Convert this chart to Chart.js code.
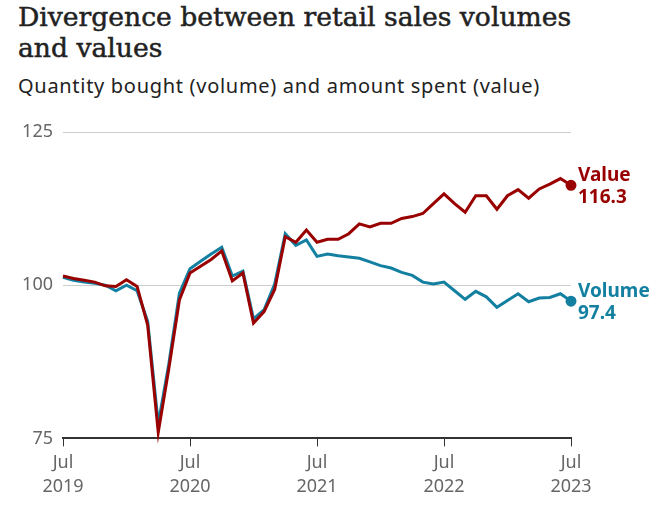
<!DOCTYPE html>
<html>
<head>
<meta charset="utf-8">
<script src="https://cdn.jsdelivr.net/npm/chart.js@4"></script>
<style>
  html, body { margin: 0; padding: 0; background: #fff; }
  body { width: 669px; height: 509px; position: relative; overflow: hidden; }
  #title {
    position: absolute; left: 18px; top: 1px; width: 650px;
    font-family: "DejaVu Serif", serif; font-size: 26.6px; line-height: 31px;
    color: #222; margin: 0; font-weight: normal;
    -webkit-text-stroke: 0.5px #222;
  }
  #subtitle {
    position: absolute; left: 18px; top: 72px;
    font-family: "Noto Sans", sans-serif; font-size: 20px; letter-spacing: 0.7px; color: #222;
  }
  #wrap { position: absolute; left: 0; top: 110px; width: 669px; height: 399px; }
</style>
</head>
<body>
<h1 id="title">Divergence between retail sales volumes<br>and values</h1>
<div id="subtitle">Quantity bought (volume) and amount spent (value)</div>
<div id="wrap"><canvas id="chart"></canvas></div>
<script>
// monthly index, Jul 2019 .. Jul 2023
const months = [];
const monthNames = ['Jul','Aug','Sep','Oct','Nov','Dec','Jan','Feb','Mar','Apr','May','Jun'];
for (let i = 0; i < 49; i++) {
  months.push(monthNames[i % 12] + ' ' + (2019 + Math.floor((i + 6) / 12)));
}

const valueSeries = [101.5, 101.1, 100.8, 100.5, 99.9, 99.8, 100.9, 99.8, 93.5, 76.0,
  86.4, 97.6, 102.0, 103.1, 104.2, 105.6, 100.7, 102.0, 93.8, 95.7,
  99.3, 107.9, 107.0, 109.0, 107.0, 107.5, 107.5, 108.4, 110.0, 109.5,
  110.1, 110.1, 110.9, 111.2, 111.7, 113.3, 114.9, 113.3, 111.9, 114.6,
  114.6, 112.4, 114.6, 115.6, 114.2, 115.7, 116.5, 117.4, 116.3];

const volumeSeries = [101.3, 100.8, 100.5, 100.3, 100.0, 99.1, 100.0, 99.1, 94.1, 77.4,
  87.2, 98.7, 102.7, 103.9, 105.1, 106.2, 101.5, 102.3, 94.5, 96.0,
  100.2, 108.4, 106.5, 107.4, 104.7, 105.1, 104.8, 104.6, 104.4, 103.8,
  103.2, 102.8, 102.1, 101.6, 100.5, 100.2, 100.5, 99.1, 97.7, 99.0,
  98.1, 96.4, 97.5, 98.6, 97.3, 97.9, 98.0, 98.6, 97.4];

const yTicks = [75, 100, 125];
const seriesNames = ['Value', 'Volume'];
const seriesColors = ['#990000', '#1380a1'];

const isJuly = (i) => i % 12 === 0;
const lastIdx = months.length - 1;

// label at the end of each line
const endLabels = {
  id: 'endLabels',
  afterDatasetsDraw(chart) {
    const ctx = chart.ctx;
    ctx.save();
    ctx.font = 'bold 19px "Noto Sans", sans-serif';
    ctx.textBaseline = 'middle';
    chart.data.datasets.forEach((ds, i) => {
      const pt = chart.getDatasetMeta(i).data[lastIdx];
      ctx.fillStyle = ds.borderColor;
      ctx.fillText(ds.label, pt.x + 7, pt.y - 10);
      ctx.fillText(ds.data[lastIdx].toFixed(1), pt.x + 7, pt.y + 12);
    });
    ctx.restore();
  }
};

const makeSet = (label, data, color) => ({
  label: label,
  data: data,
  borderColor: color,
  backgroundColor: color,
  borderWidth: 3,
  tension: 0,
  clip: false,
  pointRadius: (c) => c.dataIndex === lastIdx ? 4 : 0,
  pointHoverRadius: 0
});

new Chart(document.getElementById('chart'), {
  type: 'line',
  data: {
    labels: months,
    datasets: [
      makeSet(seriesNames[0], valueSeries, seriesColors[0]),
      makeSet(seriesNames[1], volumeSeries, seriesColors[1])
    ]
  },
  options: {
    responsive: true,
    maintainAspectRatio: false,
    animation: false,
    layout: { padding: { top: 22, right: 98, bottom: 6, left: 0 } },
    plugins: { legend: { display: false }, tooltip: { enabled: false } },
    scales: {
      x: {
        grid: {
          drawOnChartArea: false,
          tickLength: 8,
          tickColor: (c) => isJuly(c.index) ? '#333' : 'rgba(0,0,0,0)'
        },
        border: { color: '#333', width: 2 },
        ticks: {
          autoSkip: false,
          maxRotation: 0,
          padding: 4,
          color: '#666',
          font: { family: '"Noto Sans", sans-serif', size: 18, lineHeight: 1.35 },
          callback: (v, i) => isJuly(i) ? ['Jul', String(2019 + i / 12)] : ''
        }
      },
      y: {
        min: 75,
        max: 125,
        afterBuildTicks: (s) => { s.ticks = yTicks.map(v => ({ value: v })); },
        afterFit: (s) => { s.width = 63; },
        border: { display: false },
        grid: {
          drawTicks: false,
          color: (c) => c.tick && c.tick.value === 75 ? 'rgba(0,0,0,0)' : '#cccccc'
        },
        ticks: {
          padding: 10,
          color: '#666',
          font: { family: '"Noto Sans", sans-serif', size: 18 }
        }
      }
    }
  },
  plugins: [endLabels]
});
</script>
</body>
</html>
